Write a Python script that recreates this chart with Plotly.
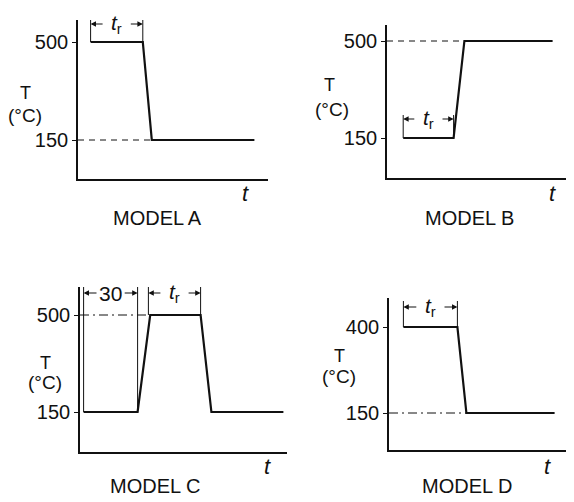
import plotly.graph_objects as go

# ---------------- data ----------------
t_A = [7, 36, 41, 98]
T_A = [500, 500, 150, 150]
t_B = [9, 37, 43, 92]
T_B = [150, 150, 500, 500]
t_C = [2, 32, 39, 67, 73, 113]
T_C = [150, 150, 500, 500, 150, 150]
t_D = [8, 38, 43, 92]
T_D = [400, 400, 150, 150]

ticks_A = [150, 500]
ticks_B = [150, 500]
ticks_C = [150, 500]
ticks_D = [150, 400]
titles = ["MODEL A", "MODEL B", "MODEL C", "MODEL D"]

OFF = 8  # browser default body margin
W, H = 574 - OFF, 502 - OFF
PX_PER_T = 1.8
FONT = "Liberation Sans"
INK = "#111111"


def fx(px):
    return (px - OFF) / W


def fy(py):
    return 1 - (py - OFF) / H


# panel layout in pixels: axis x0, x1, top, bottom, pixel rows of low / high tick
panels = [
    dict(x0=78, x1=268, yt=20, yb=179, lo=ticks_A[0], hi=ticks_A[1], plo=140, phi=42),
    dict(x0=387, x1=574, yt=25, yb=178, lo=ticks_B[0], hi=ticks_B[1], plo=138, phi=41),
    dict(x0=80, x1=287, yt=287, yb=452, lo=ticks_C[0], hi=ticks_C[1], plo=412, phi=315),
    dict(x0=389, x1=574, yt=298, yb=450, lo=ticks_D[0], hi=ticks_D[1], plo=413, phi=327),
]


def y_at(p, py):
    u = (p["hi"] - p["lo"]) / (p["plo"] - p["phi"])
    return p["lo"] + (p["plo"] - py) * u


fig = go.Figure()
layout = dict(width=W, height=H, margin=dict(l=0, r=0, t=0, b=0),
              paper_bgcolor="white", plot_bgcolor="white", showlegend=False)

for i, p in enumerate(panels):
    n = "" if i == 0 else str(i + 1)
    layout["xaxis" + n] = dict(
        domain=[fx(p["x0"]), min(1.0, fx(p["x1"]))],
        range=[0, (p["x1"] - p["x0"]) / PX_PER_T],
        showline=True, linecolor=INK, linewidth=1.6, showgrid=False,
        zeroline=False, showticklabels=False, ticks="",
        anchor="y" + n, fixedrange=True)
    layout["yaxis" + n] = dict(
        domain=[fy(p["yb"]), fy(p["yt"])],
        range=[y_at(p, p["yb"]), y_at(p, p["yt"])],
        showline=True, linecolor=INK, linewidth=1.6, showgrid=False,
        zeroline=False, tickvals=[p["lo"], p["hi"]],
        ticktext=[str(p["lo"]), str(p["hi"])],
        ticks="outside", ticklen=4, tickwidth=1, tickcolor=INK,
        tickfont=dict(family=FONT, size=20, color=INK),
        anchor="x" + n, fixedrange=True)

fig.update_layout(**layout)

series = [(t_A, T_A), (t_B, T_B), (t_C, T_C), (t_D, T_D)]
# reference dashed lines: (t end, level, dash)
guides = [(t_A[2], T_A[2], "6px,5px"), (t_B[2], T_B[2], "6px,5px"),
          (t_C[2], T_C[2], "9px,4px,2px,4px"), (t_D[2], T_D[2], "9px,4px,2px,4px")]

for i, (tt, TT) in enumerate(series):
    n = "" if i == 0 else str(i + 1)
    xr, yr = "x" + n, "y" + n
    g = guides[i]
    fig.add_trace(go.Scatter(x=[0, g[0]], y=[g[1], g[1]], mode="lines",
                             line=dict(color=INK, width=1, dash=g[2]),
                             xaxis=xr, yaxis=yr, hoverinfo="skip"))
    fig.add_trace(go.Scatter(x=tt, y=TT, mode="lines",
                             line=dict(color=INK, width=2.2),
                             xaxis=xr, yaxis=yr, hoverinfo="skip"))

TR = "<i>t</i><sub>r</sub>"
# brackets: panel index, t start, t end, level, top pixel, arrow pixel, label
brackets = [
    (0, t_A[0], t_A[1], T_A[0], 20, 24, TR),
    (1, t_B[0], t_B[1], T_B[0], 115, 119, TR),
    (2, t_C[0], t_C[1], T_C[0], 287, 293, "30"),
    (2, 38, t_C[3], T_C[2], 287, 293, TR),
    (3, t_D[0], t_D[1], T_D[0], 301, 307, TR),
]

for (pi, ta, tb, lvl, ptop, parr, lab) in brackets:
    p = panels[pi]
    n = "" if pi == 0 else str(pi + 1)
    xr, yr = "x" + n, "y" + n
    ytop = y_at(p, ptop)
    yarr = y_at(p, parr)
    for tx in (ta, tb):
        fig.add_trace(go.Scatter(x=[tx, tx], y=[lvl, ytop], mode="lines",
                                 line=dict(color=INK, width=1),
                                 xaxis=xr, yaxis=yr, hoverinfo="skip"))
    mid = (ta + tb) / 2
    half = 7
    fig.add_annotation(x=mid, y=yarr, xref=xr, yref=yr, text=lab, showarrow=False,
                       xanchor="center", yanchor="middle",
                       font=dict(family=FONT, size=21, color=INK))
    for tx, tail in ((ta, mid - half), (tb, mid + half)):
        fig.add_annotation(x=tx, y=yarr, ax=tail, ay=yarr, xref=xr, yref=yr,
                           axref=xr, ayref=yr, text="", showarrow=True,
                           arrowhead=2, arrowsize=0.9, arrowwidth=1.2,
                           arrowcolor=INK, standoff=0, startstandoff=0)

# text labels (pixel positions)
labels = [
    # t axis labels
    (245, 193, "<i>t</i>", 22), (552, 193, "<i>t</i>", 22),
    (267, 466, "<i>t</i>", 22), (547, 466, "<i>t</i>", 22),
    # titles
    (157, 218, titles[0], 20), (469, 218, titles[1], 20),
    (155, 486, titles[2], 20), (467, 486, titles[3], 20),
    # T (°C)
    (25, 93, "T", 18), (25, 115, "(°C)", 19),
    (329, 85, "T", 18), (332, 109, "(°C)", 19),
    (45, 363, "T", 18), (45, 382, "(°C)", 19),
    (339, 356, "T", 18), (339, 376, "(°C)", 19),
]
for (px, py, txt, fs) in labels:
    fig.add_annotation(x=fx(px), y=fy(py), xref="paper", yref="paper",
                       text=txt, showarrow=False, xanchor="center", yanchor="middle",
                       font=dict(family=FONT, size=fs, color=INK))

fig.write_html("out.html")
